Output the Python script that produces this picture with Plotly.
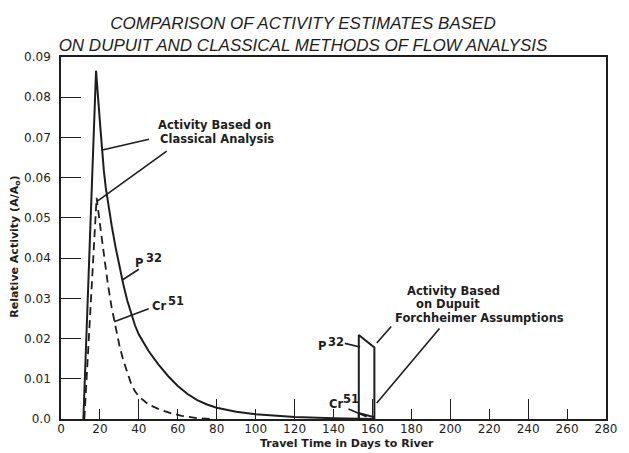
import plotly.graph_objects as go

# ---------------- data ----------------
# Classical analysis, P32 (solid)
p32_days = [11.5, 18.0, 20.0, 21.0, 22.0, 23.0, 24.0, 26.0, 28.0, 30.0, 32.0, 34.0, 36.0, 38.0,
            40.0, 45.0, 50.0, 55.0, 60.0, 65.0, 70.0, 75.0, 80.0, 90.0, 100.0, 110.0, 120.0,
            140.0, 160.0]
p32_act = [0.0, 0.0866, 0.0738, 0.0675, 0.0618, 0.0575, 0.054, 0.0482, 0.0428, 0.0379, 0.0335,
           0.0295, 0.0261, 0.0233, 0.021, 0.0169, 0.0136, 0.0107, 0.0082, 0.0062, 0.0047, 0.0036,
           0.0028, 0.0018, 0.0012, 0.0008, 0.0005, 0.0002, 0.0]
# Classical analysis, Cr51 (dashed)
cr51_days = [12.0, 18.3, 20.0, 22.0, 24.0, 26.0, 28.0, 30.0, 32.0, 34.0, 36.0, 38.0, 40.0, 45.0,
             50.0, 56.0, 62.0, 70.0, 78.0]
cr51_act = [0.0, 0.055, 0.0485, 0.041, 0.0338, 0.0278, 0.0227, 0.0183, 0.0146, 0.0114, 0.0088,
            0.0069, 0.0056, 0.0036, 0.0025, 0.0015, 0.0008, 0.0002, 0.0]
# Dupuit-Forchheimer assumptions
dup_p32_days = [153.0, 153.0, 161.0, 161.0]
dup_p32_act = [0.0, 0.0209, 0.0178, 0.0]
dup_cr51_days = [153.0, 153.0, 160.5, 160.5]
dup_cr51_act = [0.0, 0.0015, 0.0005, 0.0]

x_ticks = list(range(0, 281, 20))
x_ticktext = [str(v) for v in x_ticks]
y_ticks = [0.0, 0.01, 0.02, 0.03, 0.04, 0.05, 0.06, 0.07, 0.08, 0.09]
y_ticktext = ["0.0", "0.01", "0.02", "0.03", "0.04", "0.05", "0.06", "0.07", "0.08", "0.09"]

# ---------------- layout helpers (pixel -> data / paper) ----------------
W, H = 629, 453
L, R, T, B = 61, 615, 57, 419
XMAX, YMAX = 280, 0.09


def dx(px):
    return (px - L) / (R - L) * XMAX


def dy(py):
    return (B - py) / (B - T) * YMAX


def pxp(px):
    return (px - L) / (R - L)


def pyp(py):
    return (B - py) / (B - T)


INK = "#1e1e1e"
FONT = "DejaVu Sans"

fig = go.Figure()
fig.add_trace(go.Scatter(x=p32_days, y=p32_act, mode="lines",
                         line=dict(color=INK, width=2), showlegend=False, hoverinfo="skip"))
fig.add_trace(go.Scatter(x=cr51_days, y=cr51_act, mode="lines",
                         line=dict(color=INK, width=1.8, dash="8px,5px"), showlegend=False,
                         hoverinfo="skip"))
fig.add_trace(go.Scatter(x=dup_p32_days, y=dup_p32_act, mode="lines", xaxis="x2",
                         line=dict(color=INK, width=2), showlegend=False, hoverinfo="skip"))
fig.add_trace(go.Scatter(x=dup_cr51_days, y=dup_cr51_act, mode="lines", xaxis="x2",
                         line=dict(color=INK, width=2), showlegend=False, hoverinfo="skip"))

annotations = []

# leader lines (tail pixel -> head pixel)
leaders = [
    ((152, 139), (103, 150)),
    ((170, 150), (97.3, 201.7)),
    ((141.7, 268.3), (123.3, 280)),
    ((151.7, 308.3), (115, 321.7)),
    ((398, 325), (382, 343)),
    ((447, 327), (382, 403)),
    ((348, 343), (365, 347)),
    ((351.7, 408.3), (371.7, 416.7)),
]
for (tx, ty), (hx, hy) in leaders:
    annotations.append(dict(x=dx(hx), y=dy(hy), ax=dx(tx), ay=dy(ty), xref="x", yref="y",
                            axref="x", ayref="y", text="", showarrow=True, arrowhead=0,
                            arrowwidth=1.6, arrowcolor=INK, standoff=0, startstandoff=0))

# text labels: (text, left px, center y px, size)
labels = [
    ("Activity Based on", 160, 125, 11.5),
    ("Classical Analysis", 162, 139, 11.5),
    ("P", 136, 263, 11.5),
    ("32", 147, 258, 11.5),
    ("Cr", 153, 306, 11.5),
    ("51", 170, 301, 11.5),
    ("Activity Based", 413, 291, 11.5),
    ("on Dupuit", 422, 304, 11.5),
    ("Forchheimer Assumptions", 401, 318, 11.5),
    ("P", 322, 346, 11.5),
    ("32", 332, 342, 11.5),
    ("Cr", 333, 404, 11.5),
    ("51", 348, 399, 11.5),
]
for txt, lx, cy, sz in labels:
    annotations.append(dict(x=pxp(lx), y=pyp(cy), xref="paper", yref="paper", text=txt,
                            showarrow=False, xanchor="left", yanchor="middle",
                            borderpad=0, borderwidth=0,
                            font=dict(family=FONT, size=sz, color=INK, weight="bold")))

# axis titles
annotations.append(dict(x=pxp(352), y=pyp(443), xref="paper", yref="paper",
                        text="Travel Time in Days to River", showarrow=False,
                        xanchor="center", yanchor="middle",
                        font=dict(family=FONT, size=11, color=INK, weight="bold")))
annotations.append(dict(x=pxp(14), y=pyp(247), xref="paper", yref="paper",
                        text="Relative Activity (A/A<sub>o</sub>)", showarrow=False, textangle=-90,
                        xanchor="center", yanchor="middle",
                        font=dict(family=FONT, size=11, color=INK, weight="bold")))

axis_common = dict(showgrid=False, zeroline=False, showline=True, linecolor=INK, linewidth=1.6,
                   ticks="inside", tickcolor=INK, tickwidth=1.2)

fig.update_layout(
    width=W, height=H,
    margin=dict(l=L, r=W - R, t=T, b=H - B),
    paper_bgcolor="white", plot_bgcolor="white",
    title=dict(text="<i>COMPARISON OF ACTIVITY ESTIMATES BASED<br>"
                    "ON DUPUIT AND CLASSICAL METHODS OF FLOW ANALYSIS</i>",
               x=303 / W, xanchor="center", y=1 - 29 / H, yanchor="middle", yref="container",
               font=dict(family="Liberation Sans", size=17, color=INK)),
    xaxis=dict(range=[0, XMAX], tickmode="array", tickvals=x_ticks, ticktext=x_ticktext,
               ticklen=10, mirror=True, ticklabelstandoff=-2,
               tickfont=dict(family=FONT, size=12, color=INK), **axis_common),
    xaxis2=dict(range=[0, XMAX], overlaying="x", side="bottom", tickmode="linear", tick0=0,
                dtick=40, ticklen=20, showticklabels=False, showgrid=False, zeroline=False,
                showline=False, ticks="inside", tickcolor=INK, tickwidth=1.2),
    yaxis=dict(range=[0, YMAX], tickmode="array", tickvals=y_ticks, ticktext=y_ticktext,
               ticklen=20, mirror=True, ticklabelstandoff=6,
               tickfont=dict(family=FONT, size=12, color=INK), **axis_common),
    annotations=annotations,
)

fig.write_html("out.html")
